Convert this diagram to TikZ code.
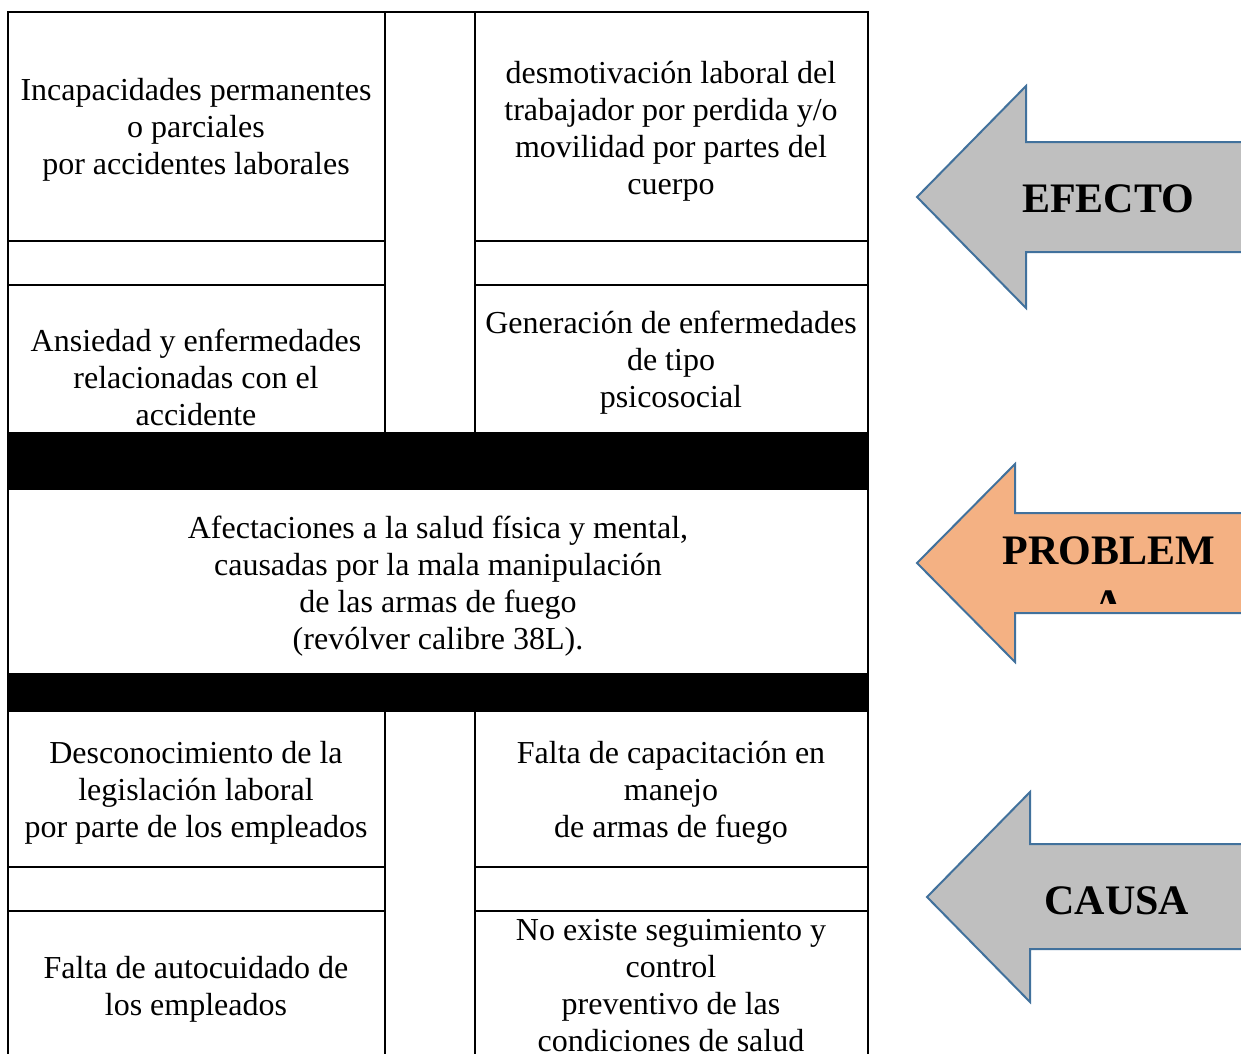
\documentclass[tikz,border=0pt]{standalone}
\usepackage{fontspec}
\setmainfont{Liberation Serif}
\definecolor{arrowblue}{RGB}{65,113,156}
\definecolor{arrowgray}{RGB}{191,191,191}
\definecolor{arroworange}{RGB}{244,177,131}
\tikzset{
  grid/.style={line width=2pt, black},
  celltext/.style={inner sep=0pt, align=center, font=\fontsize{32}{37}\selectfont},
  bigarrow/.style={draw=arrowblue, line width=2pt, line join=miter},
  arrowtext/.style={inner sep=0pt, align=center, font=\fontsize{42}{52}\selectfont\bfseries}
}
\begin{document}
\begin{tikzpicture}[x=1pt,y=-1pt]
\useasboundingbox (0,0) rectangle (1241,1053);
\clip (0,0) rectangle (1241,1053);
% black bars
\fill[black] (8,432) rectangle (868,490);
\fill[black] (8,673) rectangle (868,712);
% outer lines
\draw[grid] (8,1060) -- (8,12) -- (868,12) -- (868,1060);
% column lines
\draw[grid] (385,12) -- (385,432);
\draw[grid] (475,12) -- (475,432);
\draw[grid] (385,712) -- (385,1060);
\draw[grid] (475,712) -- (475,1060);
% row lines
\draw[grid] (8,241) -- (385,241);
\draw[grid] (8,285) -- (385,285);
\draw[grid] (475,241) -- (868,241);
\draw[grid] (475,285) -- (868,285);
\draw[grid] (8,867) -- (385,867);
\draw[grid] (8,911) -- (385,911);
\draw[grid] (475,867) -- (868,867);
\draw[grid] (475,911) -- (868,911);
% cell texts
\node[celltext] (e1) at (196,130) {Incapacidades permanentes\\o parciales\\por accidentes laborales};
\node[celltext] (e2) at (671,131) {desmotivación laboral del\\trabajador por perdida y/o\\movilidad por partes del\\cuerpo};
\node[celltext] (e3) at (196,377.5) {Ansiedad y enfermedades\\relacionadas con el\\accidente};
\node[celltext] (e4) at (671,362.5) {Generación de enfermedades\\de tipo\\psicosocial};
\node[celltext] (p) at (438,586.5) {Afectaciones a la salud física y mental,\\causadas por la mala manipulación\\de las armas de fuego\\(revólver calibre 38L).};
\node[celltext] (c1) at (196,793) {Desconocimiento de la\\legislación laboral\\por parte de los empleados};
\node[celltext] (c2) at (671,793) {Falta de capacitación en\\manejo\\de armas de fuego};
\node[celltext] (c3) at (196,989) {Falta de autocuidado de\\los empleados};
\node[celltext] (c4) at (671,986) {No existe seguimiento y\\control\\preventivo de las\\condiciones de salud};
% arrows
\draw[bigarrow, fill=arrowgray] (917,197) -- (1026,86) -- (1026,142) -- (1260,142) -- (1260,252) -- (1026,252) -- (1026,308) -- cycle;
\node[arrowtext] (efecto) at (1108,199) {EFECTO};
\draw[bigarrow, fill=arroworange] (917,563) -- (1015,464) -- (1015,513) -- (1260,513) -- (1260,613) -- (1015,613) -- (1015,662) -- cycle;
\node[arrowtext] (problem) at (1109,551) {PROBLEM};
\begin{scope}
\clip (1015,513) rectangle (1241,603);
\node[arrowtext, anchor=base] (problema) at (1109,618) {A};
\end{scope}
\draw[bigarrow, fill=arrowgray] (927,897) -- (1030,792) -- (1030,844) -- (1260,844) -- (1260,949) -- (1030,949) -- (1030,1002) -- cycle;
\node[arrowtext] (causa) at (1117,901) {CAUSA};
\end{tikzpicture}
\end{document}
